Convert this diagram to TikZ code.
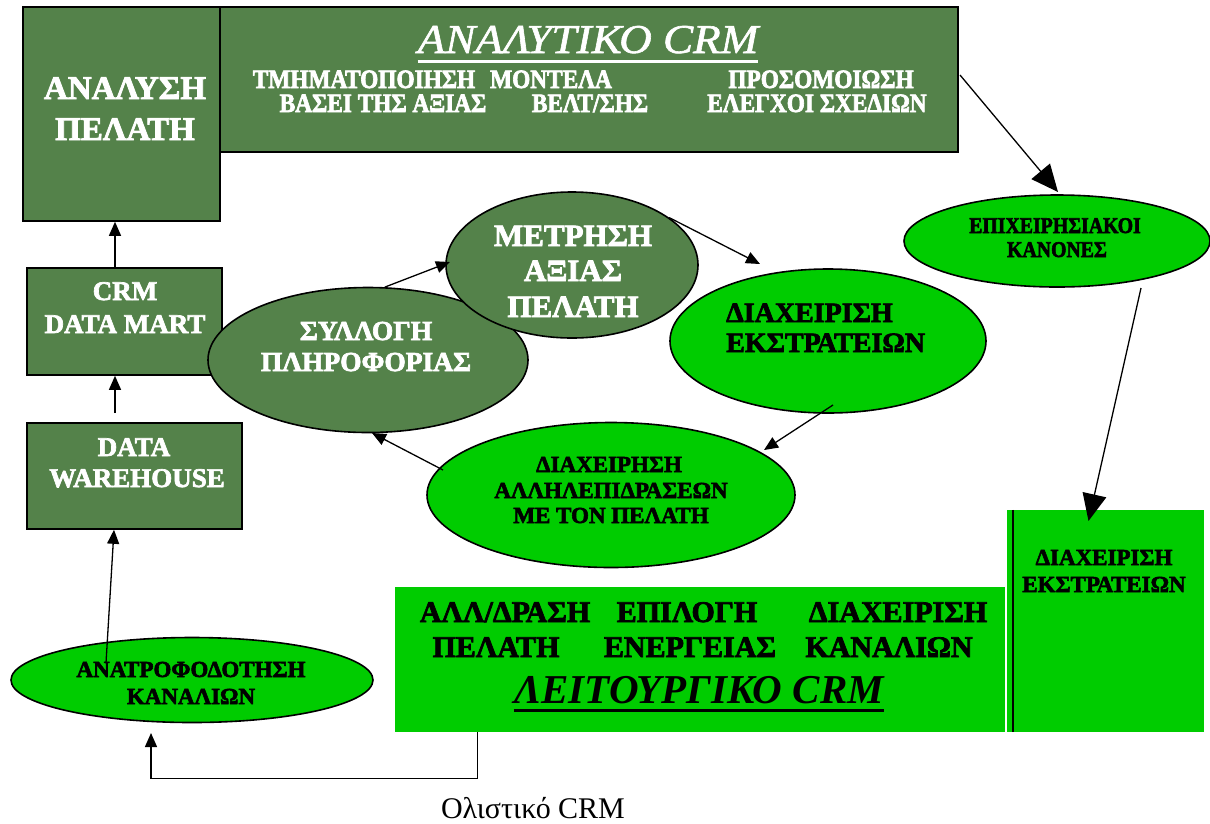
\documentclass[tikz,border=0pt]{standalone}
\usepackage{fontspec}
\setmainfont{Liberation Serif}[BoldFeatures={FakeBold=2.5}]
\newfontfamily\narrowfont{Liberation Serif}[FakeStretch=0.88, BoldFeatures={FakeBold=2.5}]
\newfontfamily\titlefont{Liberation Serif}[FakeStretch=1.1, ItalicFeatures={FakeBold=1.5}]
\usetikzlibrary{arrows.meta,shapes.geometric}
\definecolor{darkleaf}{RGB}{84,130,74}
\definecolor{brightleaf}{RGB}{0,204,0}
\newcommand\fsz[1]{\fontsize{#1}{#1}\selectfont}

\begin{document}
\begin{tikzpicture}[x=1pt,y=-1pt,
  darkbox/.style={draw=black, line width=1.6pt, fill=darkleaf, rectangle, inner sep=0pt},
  lightbox/.style={fill=brightleaf, rectangle, inner sep=0pt},
  darkoval/.style={draw=black, line width=1.6pt, fill=darkleaf, ellipse, inner sep=0pt},
  lightoval/.style={draw=black, line width=1.6pt, fill=brightleaf, ellipse, inner sep=0pt},
  wtxt/.style={text=white, inner sep=0pt, anchor=base},
  btxt/.style={text=black, inner sep=0pt, anchor=base},
  link/.style={line width=1.3pt, -{Triangle[length=14pt,width=12pt]}},
  biglink/.style={line width=1.3pt, -{Triangle[length=27pt,width=24pt]}},
]
\useasboundingbox (0,0) rectangle (1210,823);
\fill[white] (0,0) rectangle (1210,823);

% analytical side: boxes
\node[darkbox, minimum width=197pt, minimum height=214pt] (an) at (121.5,114) {};
\node[darkbox, minimum width=738pt, minimum height=145pt] (ac) at (589,79.5) {};
\node[darkbox, minimum width=195pt, minimum height=107pt] (dm) at (124.5,321.5) {};
\node[darkbox, minimum width=215pt, minimum height=106pt] (dw) at (134.5,476) {};

% cycle of ellipses
\node[darkoval, minimum width=320pt, minimum height=145pt] (syl) at (368,360) {};
\node[darkoval, minimum width=252pt, minimum height=146pt] (met) at (572,265) {};
\node[lightoval, minimum width=316pt, minimum height=144pt] (dek) at (828,341) {};
\node[lightoval, minimum width=368pt, minimum height=145pt] (dal) at (611,495) {};
\node[lightoval, minimum width=306pt, minimum height=92pt] (epi) at (1057,241) {};
\node[lightoval, minimum width=362pt, minimum height=85pt] (anat) at (192,680) {};

% operational side: boxes
\node[lightbox, minimum width=610pt, minimum height=145pt] (lb) at (700,659.5) {};
\node[lightbox, minimum width=197pt, minimum height=222pt] (rb) at (1105.5,621) {};
\draw[line width=2.2pt] ([xshift=6pt]rb.north west) -- ([xshift=6pt]rb.south west);

% texts in the boxes
\node[wtxt, font=\bfseries\fsz{33}] (anT1) at (125,99) {ΑΝΑΛΥΣΗ};
\node[wtxt, font=\bfseries\fsz{33}] (anT2) at (125,140) {ΠΕΛΑΤΗ};

\node[wtxt, font=\titlefont\itshape\fsz{41}] (acT) at (588,53) {ΑΝΑΛΥΤΙΚΟ CRM};
\draw[white, line width=3pt] ([yshift=-8pt]acT.base west) -- ([yshift=-8pt]acT.base east);
\node[wtxt, font=\narrowfont\bfseries\fsz{26.5}] (acA1) at (364,88) {ΤΜΗΜΑΤΟΠΟΙΗΣΗ};
\node[wtxt, font=\narrowfont\bfseries\fsz{26.5}] (acA2) at (551,88) {ΜΟΝΤΕΛΑ};
\node[wtxt, font=\narrowfont\bfseries\fsz{26.5}] (acA3) at (821,88) {ΠΡΟΣΟΜΟΙΩΣΗ};
\node[wtxt, font=\narrowfont\bfseries\fsz{26.5}] (acB1) at (383,112) {ΒΑΣΕΙ ΤΗΣ ΑΞΙΑΣ};
\node[wtxt, font=\narrowfont\bfseries\fsz{26.5}] (acB2) at (590,112) {ΒΕΛΤ/ΣΗΣ};
\node[wtxt, font=\narrowfont\bfseries\fsz{26.5}] (acB3) at (817,112) {ΕΛΕΓΧΟΙ ΣΧΕΔΙΩΝ};

\node[wtxt, font=\bfseries\fsz{27}] (dmT1) at (125,300) {CRM};
\node[wtxt, font=\bfseries\fsz{27}] (dmT2) at (125,333) {DATA MART};
\node[wtxt, font=\bfseries\fsz{27}] (dwT1) at (134,456) {DATA};
\node[wtxt, font=\bfseries\fsz{27}] (dwT2) at (137,487) {WAREHOUSE};

\node[wtxt, font=\bfseries\fsz{27.5}] (sylT1) at (366,340) {ΣΥΛΛΟΓΗ};
\node[wtxt, font=\bfseries\fsz{27.5}] (sylT2) at (366,371) {ΠΛΗΡΟΦΟΡΙΑΣ};

\node[wtxt, font=\bfseries\fsz{31}] (metT1) at (573,246) {ΜΕΤΡΗΣΗ};
\node[wtxt, font=\bfseries\fsz{31}] (metT2) at (573,281) {ΑΞΙΑΣ};
\node[wtxt, font=\bfseries\fsz{31}] (metT3) at (573,317) {ΠΕΛΑΤΗ};

\node[btxt, font=\bfseries\fsz{28}, anchor=base west] (dekT1) at (726,322) {ΔΙΑΧΕΙΡΙΣΗ};
\node[btxt, font=\bfseries\fsz{28}, anchor=base west] (dekT2) at (726,352) {ΕΚΣΤΡΑΤΕΙΩΝ};

\node[btxt, font=\bfseries\fsz{23}] (dalT1) at (609,472) {ΔΙΑΧΕΙΡΗΣΗ};
\node[btxt, font=\bfseries\fsz{23}] (dalT2) at (611,498) {ΑΛΛΗΛΕΠΙΔΡΑΣΕΩΝ};
\node[btxt, font=\bfseries\fsz{23}] (dalT3) at (611,523) {ΜΕ ΤΟΝ ΠΕΛΑΤΗ};

\node[btxt, font=\narrowfont\bfseries\fsz{22.5}] (epiT1) at (1055,233) {ΕΠΙΧΕΙΡΗΣΙΑΚΟΙ};
\node[btxt, font=\narrowfont\bfseries\fsz{22.5}] (epiT2) at (1057,257) {ΚΑΝΟΝΕΣ};

\node[btxt, font=\bfseries\fsz{23}] (anatT1) at (191,677) {ΑΝΑΤΡΟΦΟΔΟΤΗΣΗ};
\node[btxt, font=\bfseries\fsz{23}] (anatT2) at (191,704) {ΚΑΝΑΛΙΩΝ};

\node[btxt, font=\bfseries\fsz{23}] (rbT1) at (1104,565) {ΔΙΑΧΕΙΡΙΣΗ};
\node[btxt, font=\bfseries\fsz{23}] (rbT2) at (1104,592) {ΕΚΣΤΡΑΤΕΙΩΝ};

\node[btxt, font=\bfseries\fsz{30}] (lbA1) at (505,622) {ΑΛΛ/ΔΡΑΣΗ};
\node[btxt, font=\bfseries\fsz{30}] (lbA2) at (687,622) {ΕΠΙΛΟΓΗ};
\node[btxt, font=\bfseries\fsz{30}] (lbA3) at (898,622) {ΔΙΑΧΕΙΡΙΣΗ};
\node[btxt, font=\bfseries\fsz{30}] (lbB1) at (496,657) {ΠΕΛΑΤΗ};
\node[btxt, font=\bfseries\fsz{30}] (lbB2) at (690,657) {ΕΝΕΡΓΕΙΑΣ};
\node[btxt, font=\bfseries\fsz{30}] (lbB3) at (889,657) {ΚΑΝΑΛΙΩΝ};
\node[btxt, font=\bfseries\itshape\fsz{41}] (lbT) at (699,703) {ΛΕΙΤΟΥΡΓΙΚΟ CRM};
\draw[black, line width=3pt] ([yshift=-7pt]lbT.base west) -- ([yshift=-7pt]lbT.base east);

\node[btxt, font=\fsz{30}] (hol) at (533,818) {Ολιστικό CRM};

% connectors
\draw[link] ([xshift=-9.5pt]dm.north) -- ([xshift=-6.5pt]an.south);
\draw[link] ([xshift=-19.5pt,yshift=9pt]dw.north) -- ([xshift=-9.5pt]dm.south);
\draw[link] (syl.77) -- ([xshift=-122pt,yshift=3pt]met.center);
\draw[link] (met.26) -- ([xshift=-68pt,yshift=77pt]dek.center);
\draw[link] ([xshift=5pt,yshift=-64pt]dek.center) -- ([xshift=153pt,yshift=45pt]dal.center);
\draw[link] ([xshift=-168pt,yshift=25pt]dal.center) -- ([xshift=4pt,yshift=-73pt]syl.center);
\draw[biglink] ([xshift=371pt,yshift=4.5pt]ac.center) -- ([xshift=1pt,yshift=49pt]epi.center);
\draw[biglink] ([xshift=84pt,yshift=-47pt]epi.center) -- ([xshift=-17pt,yshift=100pt]rb.center);
\draw[link] ([xshift=-86pt,yshift=17pt]anat.center) -- ([xshift=-20.5pt]dw.south);
\draw[link] ([xshift=83pt]lb.south west) -- ++(0,46) -| ([xshift=-41pt,yshift=-53pt]anat.center);
\end{tikzpicture}
\end{document}
